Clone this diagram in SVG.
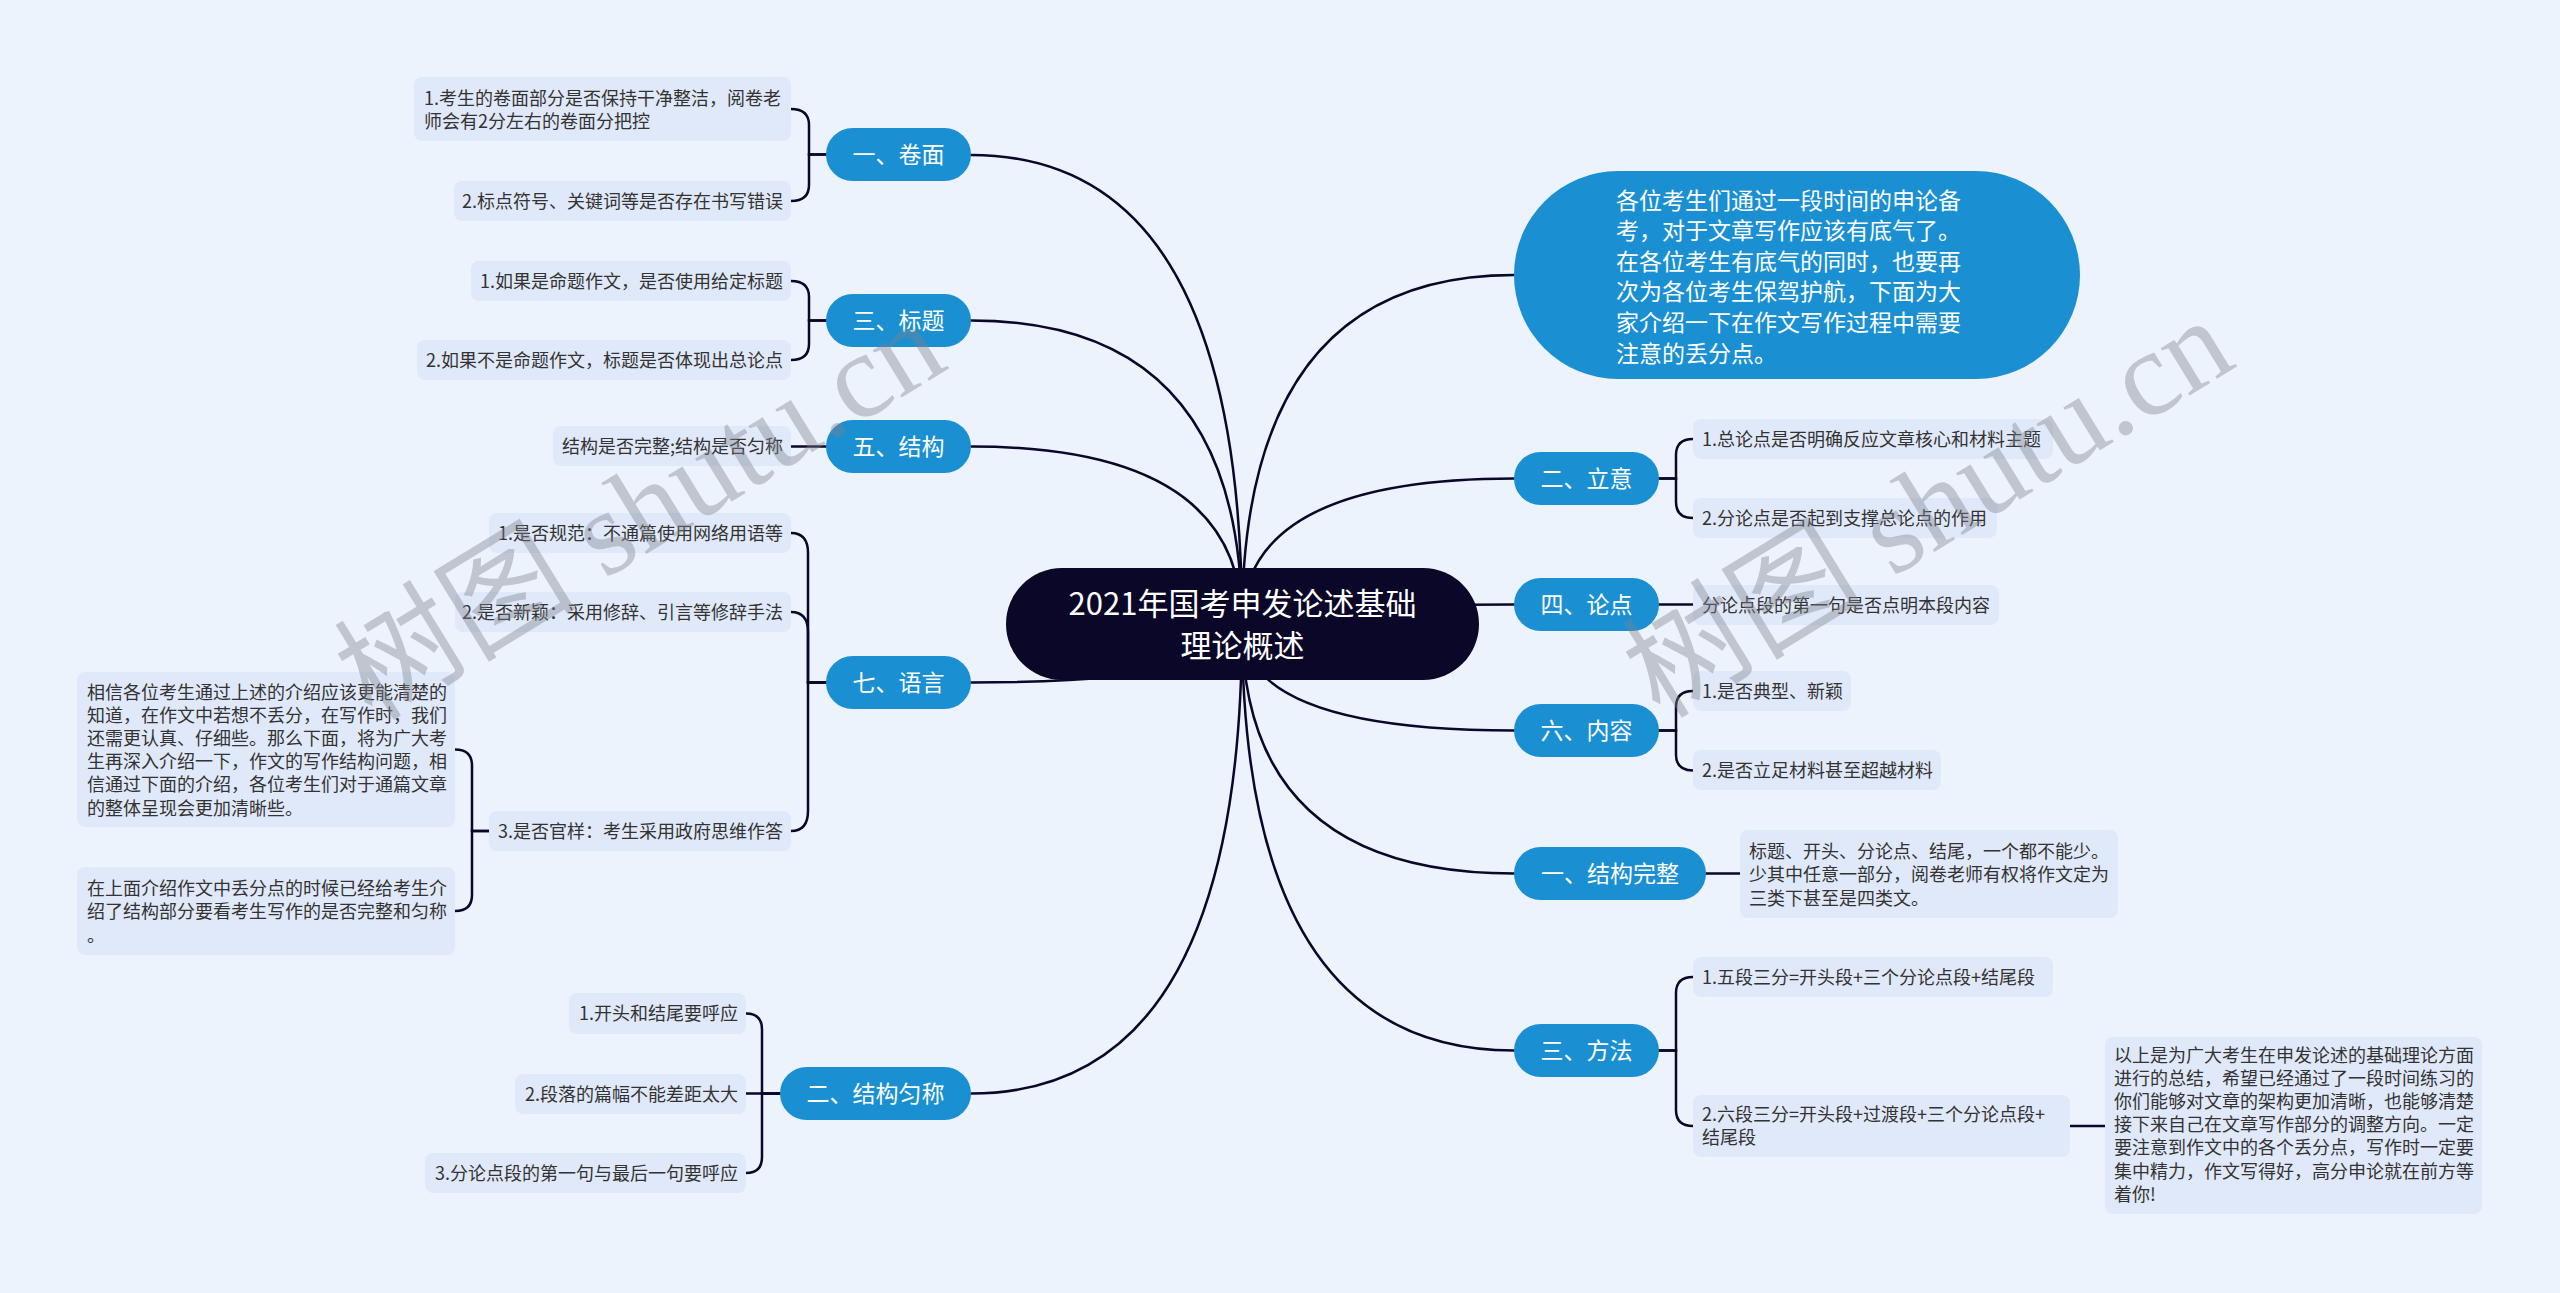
<svg xmlns="http://www.w3.org/2000/svg" width="2560" height="1293" viewBox="0 0 2560 1293">
<style>
.bg{fill:#edf3fd}
.leaf{fill:#e0e9f9}
.lt{font-family:"Noto Sans CJK SC","Noto Sans",sans-serif;font-size:18px;fill:#333}
.end{text-anchor:end}
.pill{fill:#1a8fd1}
.pt{font-family:"Noto Sans CJK SC","Noto Sans",sans-serif;font-size:23px;fill:#fff;text-anchor:middle}
.ct{font-family:"Noto Sans CJK SC","Noto Sans",sans-serif;font-size:31px;fill:#fff;text-anchor:middle}
.dt{font-family:"Noto Sans CJK SC","Noto Sans",sans-serif;font-size:23px;fill:#fff}
.ln{fill:none;stroke:#0b0728;stroke-width:2.5;stroke-linecap:round}
.wm{font-family:"Liberation Serif","Noto Sans CJK SC",serif;font-size:121px;fill:#7f838e;opacity:0.4}
</style>
<rect class="bg" x="0" y="0" width="2560" height="1293"/>
<g id="connectors">
<path class="ln" d="M1242 624 Q1242 155 971 155"/>
<path class="ln" d="M1242 624 Q1242 320.5 971 320.5"/>
<path class="ln" d="M1242 624 Q1242 446.5 971 446.5"/>
<path class="ln" d="M1242 624 Q1242 682.5 971 682.5"/>
<path class="ln" d="M1242 624 Q1242 1093.5 971 1093.5"/>
<path class="ln" d="M1242 624 Q1242 275 1514 275"/>
<path class="ln" d="M1242 624 Q1242 478.5 1514 478.5"/>
<path class="ln" d="M1242 624 Q1242 604.5 1514 604.5"/>
<path class="ln" d="M1242 624 Q1242 730.5 1514 730.5"/>
<path class="ln" d="M1242 624 Q1242 873.5 1514 873.5"/>
<path class="ln" d="M1242 624 Q1242 1050.5 1514 1050.5"/>
<path class="ln" d="M826 154.5 H809 V125 Q809 109 791 109"/>
<path class="ln" d="M826 154.5 H809 V185 Q809 201 791 201"/>
<path class="ln" d="M826 320.5 H809 V297 Q809 281 791 281"/>
<path class="ln" d="M826 320.5 H809 V344 Q809 360 791 360"/>
<path class="ln" d="M826 446.5 H791"/>
<path class="ln" d="M826 682.5 H808 V553 Q808 533 791 533"/>
<path class="ln" d="M826 682.5 H808 V632 Q808 612 791 612"/>
<path class="ln" d="M826 682.5 H808 V811 Q808 831 791 831"/>
<path class="ln" d="M489 831 H472 V765.5 Q472 749.5 455 749.5"/>
<path class="ln" d="M489 831 H472 V895 Q472 911 455 911"/>
<path class="ln" d="M780 1093.5 H762 V1029.5 Q762 1013.5 746 1013.5"/>
<path class="ln" d="M780 1093.5 H746"/>
<path class="ln" d="M780 1093.5 H762 V1157 Q762 1173 746 1173"/>
<path class="ln" d="M1659 478.5 H1676 V455 Q1676 439 1693 439"/>
<path class="ln" d="M1659 478.5 H1676 V502 Q1676 518 1693 518"/>
<path class="ln" d="M1659 604.5 H1693"/>
<path class="ln" d="M1659 730.5 H1676 V707 Q1676 691 1693 691"/>
<path class="ln" d="M1659 730.5 H1676 V754.5 Q1676 770.5 1693 770.5"/>
<path class="ln" d="M1706 873.5 H1740"/>
<path class="ln" d="M1659 1050.5 H1676 V993 Q1676 977 1693 977"/>
<path class="ln" d="M1659 1050.5 H1676 V1110 Q1676 1126 1693 1126"/>
<path class="ln" d="M2070 1126 H2105"/>
</g>
<g id="center">
<rect x="1006" y="568" width="473" height="112" rx="56" fill="#0b0728"/>
<text class="ct" x="1242.5" y="615">2021年国考申发论述基础</text>
<text class="ct" x="1242.5" y="657">理论概述</text>
</g>
<g id="n-juanmian"><rect class="pill" x="826" y="128" width="145" height="53" rx="26.5"/><text class="pt" x="898.5" y="163">一、卷面</text></g>
<g id="n-biaoti"><rect class="pill" x="826" y="294" width="145" height="53" rx="26.5"/><text class="pt" x="898.5" y="329">三、标题</text></g>
<g id="n-jiegou"><rect class="pill" x="826" y="420" width="145" height="53" rx="26.5"/><text class="pt" x="898.5" y="455">五、结构</text></g>
<g id="n-yuyan"><rect class="pill" x="826" y="656" width="145" height="53" rx="26.5"/><text class="pt" x="898.5" y="691">七、语言</text></g>
<g id="n-yunchen"><rect class="pill" x="780" y="1067" width="191" height="53" rx="26.5"/><text class="pt" x="875.5" y="1102">二、结构匀称</text></g>
<g id="n-desc">
<rect class="pill" x="1514" y="171" width="566" height="208" rx="104"/>
<text class="dt" x="1616" y="208.5">各位考生们通过一段时间的申论备</text>
<text class="dt" x="1616" y="239.1">考，对于文章写作应该有底气了。</text>
<text class="dt" x="1616" y="269.7">在各位考生有底气的同时，也要再</text>
<text class="dt" x="1616" y="300.3">次为各位考生保驾护航，下面为大</text>
<text class="dt" x="1616" y="330.9">家介绍一下在作文写作过程中需要</text>
<text class="dt" x="1616" y="361.5">注意的丢分点。</text>
</g>
<g id="n-liyi"><rect class="pill" x="1514" y="452" width="145" height="53" rx="26.5"/><text class="pt" x="1586.5" y="487">二、立意</text></g>
<g id="n-lundian"><rect class="pill" x="1514" y="578" width="145" height="53" rx="26.5"/><text class="pt" x="1586.5" y="613">四、论点</text></g>
<g id="n-neirong"><rect class="pill" x="1514" y="704" width="145" height="53" rx="26.5"/><text class="pt" x="1586.5" y="739">六、内容</text></g>
<g id="n-wanzheng"><rect class="pill" x="1514" y="847" width="192" height="53" rx="26.5"/><text class="pt" x="1610" y="882">一、结构完整</text></g>
<g id="n-fangfa"><rect class="pill" x="1514" y="1024" width="145" height="53" rx="26.5"/><text class="pt" x="1586.5" y="1059">三、方法</text></g>
<g id="l-jm1"><rect class="leaf" x="414" y="77" width="377" height="64" rx="8"/><text class="lt" x="424" y="104.5">1.考生的卷面部分是否保持干净整洁，阅卷老</text><text class="lt" x="424" y="128">师会有2分左右的卷面分把控</text></g>
<g id="l-jm2"><rect class="leaf" x="454" y="181" width="337" height="40" rx="8"/><text class="lt end" x="783" y="207.5">2.标点符号、关键词等是否存在书写错误</text></g>
<g id="l-bt1"><rect class="leaf" x="471" y="261" width="320" height="40" rx="8"/><text class="lt end" x="783" y="287.5">1.如果是命题作文，是否使用给定标题</text></g>
<g id="l-bt2"><rect class="leaf" x="417" y="340" width="374" height="40" rx="8"/><text class="lt end" x="783" y="366.5">2.如果不是命题作文，标题是否体现出总论点</text></g>
<g id="l-jg"><rect class="leaf" x="553" y="426" width="238" height="40" rx="8"/><text class="lt end" x="783" y="452.5">结构是否完整;结构是否匀称</text></g>
<g id="l-yy1"><rect class="leaf" x="489" y="513" width="302" height="40" rx="8"/><text class="lt end" x="783" y="539.5">1.是否规范：不通篇使用网络用语等</text></g>
<g id="l-yy2"><rect class="leaf" x="455" y="592" width="336" height="40" rx="8"/><text class="lt end" x="783" y="618.5">2.是否新颖：采用修辞、引言等修辞手法</text></g>
<g id="l-yy3"><rect class="leaf" x="489" y="811" width="302" height="40" rx="8"/><text class="lt end" x="783" y="837.5">3.是否官样：考生采用政府思维作答</text></g>
<g id="l-gy1"><rect class="leaf" x="77" y="672" width="378" height="155" rx="8"/>
<text class="lt" x="87" y="698.5">相信各位考生通过上述的介绍应该更能清楚的</text>
<text class="lt" x="87" y="721.7">知道，在作文中若想不丢分，在写作时，我们</text>
<text class="lt" x="87" y="744.9">还需更认真、仔细些。那么下面，将为广大考</text>
<text class="lt" x="87" y="768.1">生再深入介绍一下，作文的写作结构问题，相</text>
<text class="lt" x="87" y="791.3">信通过下面的介绍，各位考生们对于通篇文章</text>
<text class="lt" x="87" y="814.5">的整体呈现会更加清晰些。</text>
</g>
<g id="l-gy2"><rect class="leaf" x="77" y="867" width="378" height="88" rx="8"/>
<text class="lt" x="87" y="894.5">在上面介绍作文中丢分点的时候已经给考生介</text>
<text class="lt" x="87" y="918">绍了结构部分要看考生写作的是否完整和匀称</text>
<text class="lt" x="87" y="941.5">。</text>
</g>
<g id="l-yc1"><rect class="leaf" x="569" y="993" width="177" height="41" rx="8"/><text class="lt end" x="738" y="1020">1.开头和结尾要呼应</text></g>
<g id="l-yc2"><rect class="leaf" x="515" y="1074" width="231" height="40" rx="8"/><text class="lt end" x="738" y="1100.5">2.段落的篇幅不能差距太大</text></g>
<g id="l-yc3"><rect class="leaf" x="425" y="1153" width="321" height="40" rx="8"/><text class="lt end" x="738" y="1179.5">3.分论点段的第一句与最后一句要呼应</text></g>
<g id="l-ly1"><rect class="leaf" x="1693" y="419" width="360" height="40" rx="8"/><text class="lt" x="1702" y="445.5">1.总论点是否明确反应文章核心和材料主题</text></g>
<g id="l-ly2"><rect class="leaf" x="1693" y="498" width="304" height="40" rx="8"/><text class="lt" x="1702" y="524.5">2.分论点是否起到支撑总论点的作用</text></g>
<g id="l-ld"><rect class="leaf" x="1693" y="585" width="306" height="40" rx="8"/><text class="lt" x="1702" y="611.5">分论点段的第一句是否点明本段内容</text></g>
<g id="l-nr1"><rect class="leaf" x="1693" y="671" width="158" height="40" rx="8"/><text class="lt" x="1702" y="697.5">1.是否典型、新颖</text></g>
<g id="l-nr2"><rect class="leaf" x="1693" y="750" width="248" height="40" rx="8"/><text class="lt" x="1702" y="777">2.是否立足材料甚至超越材料</text></g>
<g id="l-wz"><rect class="leaf" x="1740" y="830" width="378" height="88" rx="8"/>
<text class="lt" x="1749" y="857.5">标题、开头、分论点、结尾，一个都不能少。</text>
<text class="lt" x="1749" y="881">少其中任意一部分，阅卷老师有权将作文定为</text>
<text class="lt" x="1749" y="904.5">三类下甚至是四类文。</text>
</g>
<g id="l-ff1"><rect class="leaf" x="1693" y="957" width="360" height="40" rx="8"/><text class="lt" x="1702" y="983.5">1.五段三分=开头段+三个分论点段+结尾段</text></g>
<g id="l-ff2"><rect class="leaf" x="1693" y="1095" width="377" height="62" rx="8"/>
<text class="lt" x="1702" y="1121">2.六段三分=开头段+过渡段+三个分论点段+</text>
<text class="lt" x="1702" y="1144">结尾段</text>
</g>
<g id="l-final"><rect class="leaf" x="2105" y="1037" width="377" height="177" rx="8"/>
<text class="lt" x="2114" y="1061.5">以上是为广大考生在申发论述的基础理论方面</text>
<text class="lt" x="2114" y="1084.7">进行的总结，希望已经通过了一段时间练习的</text>
<text class="lt" x="2114" y="1107.9">你们能够对文章的架构更加清晰，也能够清楚</text>
<text class="lt" x="2114" y="1131.1">接下来自己在文章写作部分的调整方向。一定</text>
<text class="lt" x="2114" y="1154.3">要注意到作文中的各个丢分点，写作时一定要</text>
<text class="lt" x="2114" y="1177.5">集中精力，作文写得好，高分申论就在前方等</text>
<text class="lt" x="2114" y="1200.7">着你!</text>
</g>
<g id="watermarks">
<text class="wm" transform="translate(372 722) rotate(-31.5)">树图 shutu.cn</text>
<text class="wm" transform="translate(1660 720) rotate(-31.5)">树图 shutu.cn</text>
</g>
</svg>
